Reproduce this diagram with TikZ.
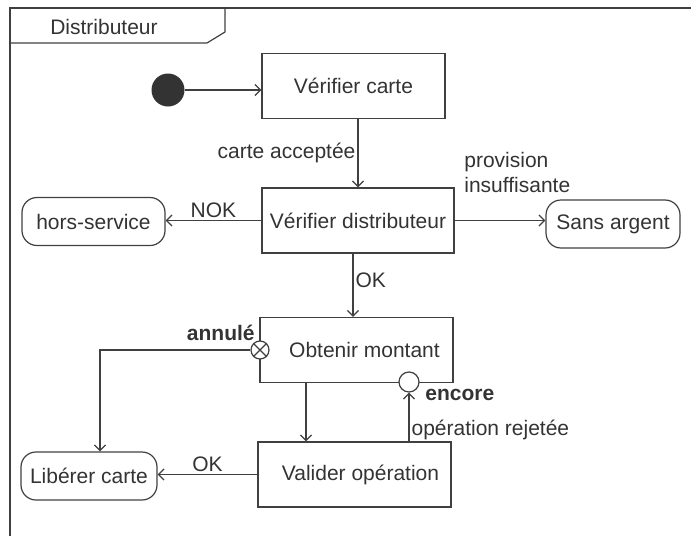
\documentclass[tikz,border=0pt]{standalone}
\usepackage{fontspec}
\setmainfont{Liberation Sans}
\usepackage{tikz}
\usetikzlibrary{arrows.meta,positioning,calc}
\definecolor{linec}{HTML}{404040}
\definecolor{textc}{HTML}{333333}
\tikzset{
  box/.style={draw=linec, line width=0.6pt, align=center, text=textc,
              font=\fontsize{10.5}{12.5}\selectfont, inner sep=2pt},
  act/.style={box, minimum height=32.5pt},
  etat/.style={box, rounded corners=7.5pt, minimum height=24pt},
  flow/.style={-{Straight Barb[length=2.8pt,width=5.5pt]}, draw=linec, line width=0.6pt},
  lbl/.style={font=\fontsize{10.5}{12.5}\selectfont, text=textc, inner sep=1pt},
  pastille/.style={circle, draw=linec, fill=white, line width=0.6pt,
                   inner sep=0pt, minimum size=#1},
}

\begin{document}
\begin{tikzpicture}[x=0.5pt, y=-0.5pt]
  \useasboundingbox (0,0) rectangle (691,536);
  % cadre et onglet
  \draw[linec, line width=0.6pt] (10,536) -- (10,8) -- (691,8);
  \draw[linec, line width=0.6pt] (10,43) -- (207,43) -- (225,32) -- (225,8);
  \node[lbl] (titre) at (104,27) {Distributeur};

  % actions et etats
  \node[circle, fill=textc, minimum size=16.5pt, inner sep=0pt] (init) at (168,90) {};
  \node[act, minimum width=91.5pt] (vcarte) at (353.5,86) {Vérifier carte};
  \node[act, minimum width=96pt] (vdist) at (358,220.5) {Vérifier distributeur};
  \node[etat, minimum width=71.5pt] (hors) at (93.5,221.5) {hors-service};
  \node[etat, minimum width=67pt] (sans) at (613,224) {Sans argent};
  \node[act, minimum width=96.5pt] (obten) at (356.5,350) {\hspace*{8pt}Obtenir montant};
  \node[act, minimum width=96.5pt] (valid) at (354.5,474.5) {\hspace*{6pt}Valider opération};
  \node[etat, minimum width=68pt] (liber) at (89,476) {Libérer carte};

  % points de sortie
  \node[pastille=9pt] (annul) at (260,350) {};
  \draw[linec, line width=0.6pt] (annul.north west) -- (annul.south east)
                                 (annul.north east) -- (annul.south west);
  \node[pastille=10pt] (encore) at (409,382) {};
  \node[lbl, anchor=east, font=\fontsize{10.5}{12.5}\selectfont\bfseries] (annullbl) at (257,333) {annulé};
  \node[lbl, anchor=west, font=\fontsize{10.5}{12.5}\selectfont\bfseries] (encorelbl) at (423,395) {encore};

  % transitions
  \draw[flow] (init) -- (init -| vcarte.west);
  \draw[flow] (vdist.north |- vcarte.south) -- (vdist.north)
    node[lbl, midway, left] (acc) {carte acceptée};
  \draw[flow] (vdist.west) -- (vdist.west -| hors.east)
    node[lbl, midway, above] (nok) {NOK};
  \draw[flow] (vdist.east) -- (vdist.east -| sans.west);
  \node[lbl, anchor=west, align=left] (prov) at (462,172.5) {provision\\insuffisante};
  \draw[flow] ([xshift=-2.5pt]vdist.south) -- ([xshift=-2.5pt]vdist.south |- obten.north)
    node[lbl, pos=0.42, right] (ok1) {OK};
  \coordinate (coin) at (100,350);
  \draw[flow] (annul.west) -- (coin) -- (coin |- liber.north);
  \draw[flow] ([xshift=-25.25pt]obten.south) -- ([xshift=-25.25pt]obten.south |- valid.north);
  \draw[flow] (encore.south |- valid.north) -- (encore.south)
    node[lbl, pos=0.24, right] (rej) {opération rejetée};
  \draw[flow] (valid.west) -- (valid.west -| liber.east)
    node[lbl, midway, above] (ok2) {OK};
\end{tikzpicture}
\end{document}
